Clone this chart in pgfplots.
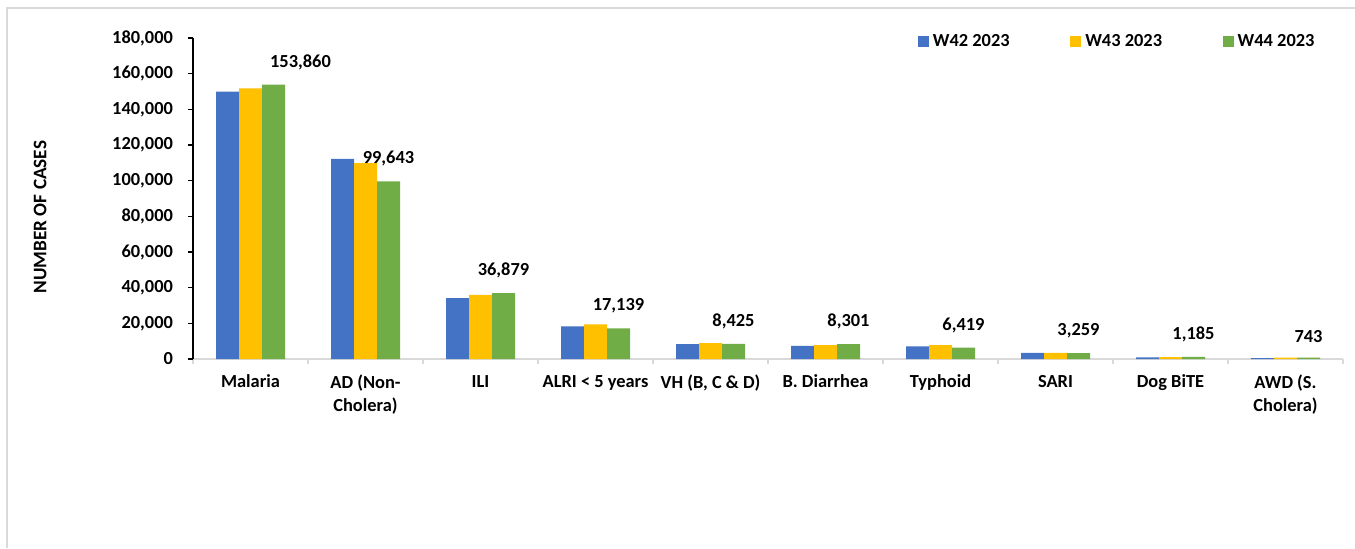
\documentclass[border=0pt]{standalone}
\usepackage{fontspec}
\setmainfont{Carlito}
\usepackage{pgfplots}
\pgfplotsset{compat=1.18}
\definecolor{cblue}{HTML}{4472C4}
\definecolor{cyellow}{HTML}{FFC000}
\definecolor{cgreen}{HTML}{70AD47}
\definecolor{cgrid}{HTML}{D9D9D9}
\pgfplotsset{sqlegend/.style={legend image code/.code={\fill[##1] (0pt,-2.75pt) rectangle (5.5pt,2.75pt);}}}
\begin{document}
\begin{tikzpicture}[font=\fontsize{9.2}{10.5}\selectfont\bfseries]
\useasboundingbox (0,0) rectangle (677.5pt,274pt);
\draw[cgrid, line width=0.7pt] (3.5pt,0) -- (3.5pt,270pt) -- (677.5pt,270pt);
\begin{axis}[
  at={(96.5pt,94.5pt)}, anchor=south west,
  scale only axis, width=575pt, height=160.5pt,
  xmin=-0.5, xmax=9.5, ymin=0, ymax=180000,
  ybar, bar width=11.5pt,
  axis x line*=bottom, axis y line*=left,
  x axis line style={cgrid, line width=0.75pt},
  y axis line style={black, line width=0.75pt},
  xtick={-0.5,0.5,...,9.5}, xticklabels={},
  xtick style={cgrid, line width=0.75pt},
  extra x ticks={0,1,...,9},
  extra x tick labels={Malaria,{AD (Non-\\Cholera)},ILI,{ALRI < 5 years},{VH (B, C \& D)},B. Diarrhea,Typhoid,SARI,Dog BiTE,{AWD (S.\\Cholera)}},
  extra x tick style={major tick length=0pt},
  xticklabel style={align=center, yshift=-4.5pt, font=\fontsize{9.2}{11.3}\selectfont\bfseries},
  ytick={0,20000,...,180000},
  ytick style={black, line width=0.75pt},
  tick align=outside, major tick length=2.5pt,
  scaled y ticks=false,
  /pgf/number format/.cd, 1000 sep={,}, fixed, assume math mode=true, /pgfplots/.cd,
  yticklabel style={xshift=-4pt},
  ylabel={NUMBER OF CASES},
  ylabel style={at={(axis description cs:-0.133,0.442)}, anchor=center, font=\fontsize{9.6}{10.5}\selectfont\bfseries},
  legend style={at={(axis description cs:0.630,0.988)}, anchor=west, draw=none, fill=none,
    inner sep=0pt, legend columns=3,
    /tikz/every even column/.append style={column sep=28.3pt}},
  legend cell align=left,
]
\addplot[fill=cblue, draw=none, bar shift=-11.5pt, sqlegend] coordinates {
 (0,149900) (1,112200) (2,34200) (3,18300) (4,8300) (5,7300) (6,7100) (7,3400) (8,900) (9,500)};
\addlegendentry{W42 2023}
\addplot[fill=cyellow, draw=none, bar shift=0pt, sqlegend] coordinates {
 (0,151800) (1,109900) (2,35900) (3,19400) (4,8900) (5,7800) (6,7800) (7,3500) (8,1000) (9,800)};
\addlegendentry{W43 2023}
\addplot[fill=cgreen, draw=none, bar shift=11.5pt, sqlegend,
  nodes near coords, nodes near coords style={yshift=4pt, font=\fontsize{9.2}{10.5}\selectfont\bfseries},
  coordinate style/.condition={x==0}{xshift=13.5pt}] coordinates {
 (0,153860) (1,99643) (2,36879) (3,17139) (4,8425) (5,8301) (6,6419) (7,3259) (8,1185) (9,743)};
\addlegendentry{W44 2023}
\end{axis}
\end{tikzpicture}
\end{document}
